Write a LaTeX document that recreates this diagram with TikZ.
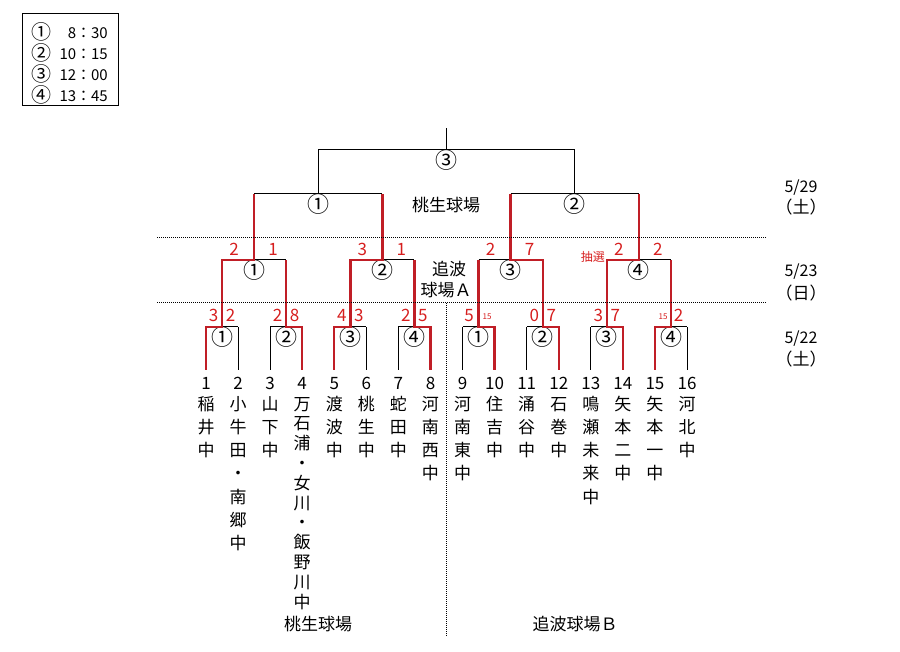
\documentclass[tikz,border=0pt]{standalone}
\usepackage{fontspec}
\setmainfont{Noto Sans CJK JP}
\usepackage{tikz}
\usetikzlibrary{
  % midpoints of the brackets
  calc,%
  positioning
}
\definecolor{winred}{RGB}{192,30,38}
\definecolor{scorered}{RGB}{214,30,30}
\tikzset{
  bline/.style={line width=1pt, black},
  win/.style={line width=2.4pt, winred},
  dots/.style={densely dotted, line width=1pt},
  txt/.style={inner sep=0pt, anchor=base, yshift=-6pt, font=\fontsize{17}{17}\selectfont},
  circ/.style={inner sep=0pt, anchor=base, yshift=-7.5pt, font=\fontsize{22}{22}\selectfont},
  score/.style={txt, text=scorered},
  tiny/.style={inner sep=0pt, anchor=base, yshift=-3pt, text=scorered, font=\fontsize{8}{8}\selectfont}
}

\begin{document}
\begin{tikzpicture}[x=1pt, y=-1pt]
  \useasboundingbox (0,0) rectangle (900,652);
  % start times
  \draw[bline] (22,14) rectangle (118,106);
  \foreach \k/\c/\t in {0/①/8：30, 1/②/10：15, 2/③/12：00, 3/④/13：45}{
    \node[circ, yshift=1pt, font=\fontsize{20}{20}\selectfont] (lg\k) at (41,{33+21*\k}) {\c};
    \node[txt, anchor=base east, font=\fontsize{15}{15}\selectfont] (lt\k) at (108,{33+21*\k}) {\t};
  }
  % leaves
  \foreach \i in {1,...,16}{
    \pgfmathsetmacro\x{206+32.07*(\i-1)}
    \coordinate (t\i) at (\x,327);
    \coordinate (b\i) at (\x,370);
    \node[txt] (n\i) at (\x,383) {\i};
    \draw[bline] (b\i) -- (t\i);
  }
  \foreach \i/\gap/\nm in {1/23.3/{稲,井,中}, 2/23.3/{小,牛,田,・,南,郷,中}, 3/23.3/{山,下,中},
      4/19.8/{万,石,浦,・,女,川,・,飯,野,川,中}, 5/23.3/{渡,波,中}, 6/23.3/{桃,生,中},
      7/23.3/{蛇,田,中}, 8/23.3/{河,南,西,中}, 9/23.3/{河,南,東,中}, 10/23.3/{住,吉,中},
      11/23.3/{涌,谷,中}, 12/23.3/{石,巻,中}, 13/23.3/{鳴,瀬,未,来,中}, 14/23.3/{矢,本,二,中},
      15/23.3/{矢,本,一,中}, 16/23.3/{河,北,中}}{
    \foreach \c [count=\k from 0] in \nm
      \node[txt] (s\i-\k) at ({206+32.07*(\i-1)},{404+\gap*\k}) {\c};
  }
  % first round
  \foreach \k/\c in {1/①, 2/②, 3/③, 4/④, 5/①, 6/②, 7/③, 8/④}{
    \pgfmathtruncatemacro\l{2*\k-1}
    \pgfmathtruncatemacro\r{2*\k}
    \coordinate (r1-\k) at ($(t\l)!.5!(t\r)$);
    \coordinate (u1-\k) at ($(r1-\k)+(0,-67)$);
    \draw[bline] (t\l) -- (t\r) (r1-\k) -- (u1-\k);
    \node[circ] (c1-\k) at ($(r1-\k)+(0,11)$) {\c};
  }
  % second round
  \foreach \k/\c in {1/①, 2/②, 3/③, 4/④}{
    \pgfmathtruncatemacro\l{2*\k-1}
    \pgfmathtruncatemacro\r{2*\k}
    \coordinate (r2-\k) at ($(u1-\l)!.5!(u1-\r)$);
    \coordinate (u2-\k) at ($(r2-\k)+(0,-66)$);
    \draw[bline] (u1-\l) -- (u1-\r) (r2-\k) -- (u2-\k);
    \node[circ] (c2-\k) at ($(r2-\k)+(0,11)$) {\c};
  }
  % semifinals and final
  \foreach \k/\c in {1/①, 2/②}{
    \pgfmathtruncatemacro\l{2*\k-1}
    \pgfmathtruncatemacro\r{2*\k}
    \coordinate (r3-\k) at ($(u2-\l)!.5!(u2-\r)$);
    \coordinate (u3-\k) at ($(r3-\k)+(0,-44)$);
    \draw[bline] (u2-\l) -- (u2-\r) (r3-\k) -- (u3-\k);
    \node[circ] (c3-\k) at ($(r3-\k)+(0,11)$) {\c};
  }
  \coordinate (f) at ($(u3-1)!.5!(u3-2)$);
  \coordinate (top) at ($(f)+(0,-22)$);
  \draw[bline] (u3-1) -- (u3-2) (f) -- (top);
  \node[circ] (c4) at ($(f)+(0,11)$) {③};
  % winners
  \draw[win] (b1) -- (t1) -- (r1-1) -- (u1-1) -- (r2-1) -- (u2-1);
  \draw[win] (b4) -- (t4) -- (r1-2) -- (u1-2);
  \draw[win] (b5) -- (t5) -- (r1-3) -- (u1-3) -- (r2-2) -- (u2-2);
  \draw[win] (b8) -- (t8) -- (r1-4) -- (u1-4);
  \draw[win] (b10) -- (t10) -- (r1-5) -- (u1-5);
  \draw[win] (b12) -- (t12) -- (r1-6) -- (u1-6) -- (r2-3) -- (u2-3);
  \draw[win] (b14) -- (t14) -- (r1-7) -- (u1-7) -- (r2-4) -- (u2-4);
  \draw[win] (b15) -- (t15) -- (r1-8) -- (u1-8);
  % scores
  \foreach \k/\a/\b in {1/3/2, 2/2/8, 3/4/3, 4/2/5, 6/0/7, 7/3/7}{
    \node[score] (sa1-\k) at ($(r1-\k)+(-8.5,-11)$) {\a};
    \node[score] (sb1-\k) at ($(r1-\k)+(8.5,-11)$) {\b};
  }
  \node[score] (sa1-5) at ($(r1-5)+(-9.5,-11)$) {5};
  \node[tiny] (sb1-5) at ($(r1-5)+(8.5,-10)$) {15};
  \node[tiny] (sa1-8) at ($(r1-8)+(-8,-10)$) {15};
  \node[score] (sb1-8) at ($(r1-8)+(7.5,-11)$) {2};
  \foreach \k/\a/\b in {1/2/1, 2/3/1, 3/2/7, 4/2/2}{
    \node[score] (sa2-\k) at ($(r2-\k)+(-20,-10)$) {\a};
    \node[score] (sb2-\k) at ($(r2-\k)+(19,-10)$) {\b};
  }
  \node[score, font=\fontsize{12}{12}\selectfont, anchor=base east] (lot) at ($(sa2-4.base west)+(-9,0)$) {抽選};
  % days and grounds
  \draw[dots] (157,238) -- (766,238);
  \draw[dots] (157,303) -- (766,303);
  \draw[dots] (top |- 0,303) -- (top |- 0,636);
  \node[txt, font=\fontsize{16}{16}\selectfont] (d1) at (801,187) {5/29};
  \node[txt] (w1) at (801,208) {（土）};
  \node[txt, font=\fontsize{16}{16}\selectfont] (d2) at (801,271) {5/23};
  \node[txt] (w2) at (801,294) {（日）};
  \node[txt, font=\fontsize{16}{16}\selectfont] (d3) at (801,338) {5/22};
  \node[txt] (w3) at (801,360) {（土）};
  \node[txt] (g1) at (446,206) {桃生球場};
  \node[txt] (g2) at (449,270) {追波};
  \node[txt] (g3) at (446,291) {球場Ａ};
  \node[txt] (g4) at (318,624) {桃生球場};
  \node[txt] (g5) at (575,624) {追波球場Ｂ};
\end{tikzpicture}
\end{document}
